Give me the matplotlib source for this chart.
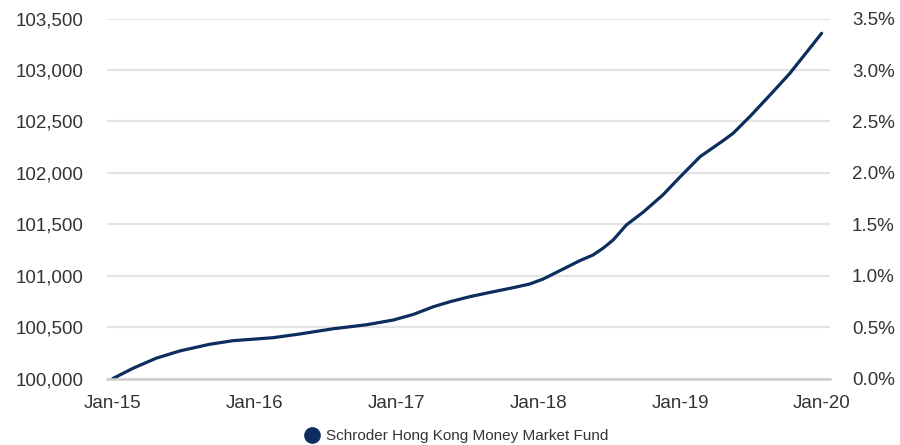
import pandas as pd
import matplotlib.pyplot as plt
import matplotlib.dates as mdates
from matplotlib.lines import Line2D
from matplotlib.ticker import FuncFormatter

plt.rcParams['font.family'] = ['Liberation Sans', 'DejaVu Sans']

# valores (indice de rendimiento, base 100,000)
fechas = ["2015-01-01", "2015-02-22", "2015-04-22", "2015-06-22", "2015-09-07",
          "2015-11-06", "2016-02-17", "2016-04-26", "2016-07-21", "2016-10-15",
          "2016-12-23", "2017-02-13", "2017-04-05", "2017-05-18", "2017-07-08",
          "2017-09-06", "2017-10-27", "2017-12-09", "2018-01-13", "2018-02-25",
          "2018-04-17", "2018-05-21", "2018-06-16", "2018-07-12", "2018-08-15",
          "2018-09-27", "2018-11-17", "2019-01-01", "2019-02-21", "2019-04-21",
          "2019-05-17", "2019-07-03", "2019-08-28", "2019-10-10", "2019-12-31"]
valores = [100000, 100100, 100197, 100268, 100333,
           100368, 100397, 100433, 100484, 100523,
           100569, 100624, 100698, 100747, 100796,
           100844, 100883, 100919, 100968, 101049,
           101146, 101201, 101267, 101347, 101493,
           101617, 101785, 101963, 102158, 102313,
           102385, 102563, 102790, 102968, 103358]
nombre = "Schroder Hong Kong Money Market Fund"
ticks_izq = [100000, 100500, 101000, 101500, 102000, 102500, 103000, 103500]
ticks_der = [0.0, 0.5, 1.0, 1.5, 2.0, 2.5, 3.0, 3.5]
ticks_x = ["2015-01-01", "2016-01-01", "2017-01-01", "2018-01-01", "2019-01-01", "2020-01-01"]

azul = '#0c2d5e'
gris_txt = '#333333'

fig = plt.figure(figsize=(9, 4.45), dpi=100)
ax = fig.add_axes([0.119, 0.1494, 0.803, 0.8086])

ax.plot(pd.to_datetime(fechas), valores, color=azul, linewidth=2.3, solid_capstyle='round')

ax.set_ylim(100000, 103500)
ax.set_yticks(ticks_izq)
ax.yaxis.set_major_formatter(FuncFormatter(lambda v, p: f"{v:,.0f}"))
ax.set_xlim(pd.Timestamp("2014-12-17"), pd.Timestamp("2020-01-21"))
ax.set_xticks(pd.to_datetime(ticks_x))
ax.xaxis.set_major_formatter(mdates.DateFormatter("%b-%y"))

ax.grid(axis='y', color='#e3e3e3', linewidth=1.5)
ax.set_axisbelow(True)
for s in ['top', 'right', 'left']:
    ax.spines[s].set_visible(False)
ax.spines['bottom'].set_color('#cccccc')
ax.spines['bottom'].set_linewidth(1.8)
ax.tick_params(axis='both', length=0, labelsize=13.5, labelcolor=gris_txt)
ax.tick_params(axis='y', pad=17)
ax.tick_params(axis='x', pad=12)

ax2 = ax.twinx()
ax2.set_ylim(0, 3.5)
ax2.set_yticks(ticks_der)
ax2.yaxis.set_major_formatter(FuncFormatter(lambda v, p: f"{v:.1f}%"))
for s in ax2.spines.values():
    s.set_visible(False)
ax2.tick_params(axis='y', length=0, labelsize=13.5, labelcolor=gris_txt, pad=16)

marca = Line2D([], [], color=azul, marker='o', linestyle='None', markersize=11)
fig.legend([marca], [nombre], loc='center', bbox_to_anchor=(0.507, 0.02),
           frameon=False, fontsize=11, labelcolor=gris_txt,
           handletextpad=0.4, handlelength=1.0)

fig.savefig("out.png", dpi=100)
